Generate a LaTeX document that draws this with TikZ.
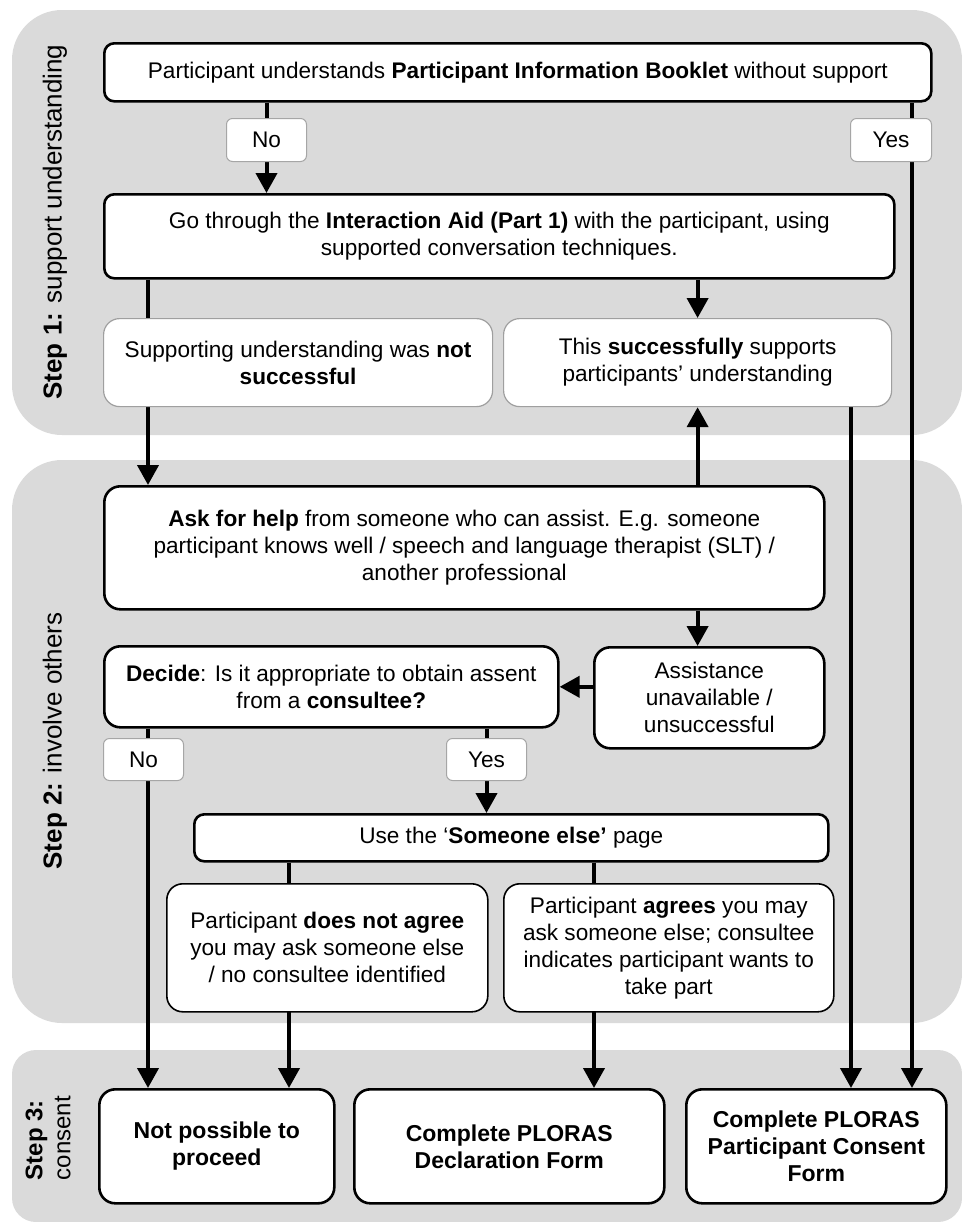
\documentclass[tikz,border=0pt]{standalone}
\usepackage{fontspec}
\setmainfont{Liberation Sans}
\usetikzlibrary{arrows.meta}

\pgfdeclarelayer{bands}
\pgfdeclarelayer{lines}
\pgfsetlayers{bands,lines,main}

\definecolor{bandgray}{RGB}{218,218,218}

\tikzset{
  box/.style={draw, line width=1.3pt, rounded corners=5pt, fill=white,
    align=center, inner sep=2pt, anchor=north west,
    font=\fontsize{11.3}{13.5}\selectfont},
  softbox/.style={box, draw=gray!75, line width=0.6pt, rounded corners=8pt},
  midbox/.style={box, line width=0.8pt, rounded corners=8pt},
  endbox/.style={box, rounded corners=8pt, font=\fontsize{11.5}{13.5}\selectfont\bfseries},
  answer/.style={box, draw=gray!70, line width=0.5pt, rounded corners=3pt},
  arr/.style={line width=2pt, -{Triangle[width=10.5pt,length=10pt]}},
  band/.style={fill=bandgray, draw=none},
  steplabel/.style={rotate=90, font=\fontsize{13}{15}\selectfont}
}

\begin{document}
\begin{tikzpicture}[x=0.5pt,y=-0.5pt]
\useasboundingbox (0,0) rectangle (962,1222);

% Bands
\begin{pgfonlayer}{bands}
  \fill[band, rounded corners=25pt] (12,10) rectangle (962,435);
  \fill[band, rounded corners=25pt] (12,460) rectangle (962,1023);
  \fill[band, rounded corners=12pt] (12,1050) rectangle (962,1222);
\end{pgfonlayer}

% Step labels
\node[steplabel] (s1) at (55,222) {\textbf{Step 1:} support understanding};
\node[steplabel] (s2) at (55,741) {\textbf{Step 2:} involve others};
\node[steplabel, align=left, font=\fontsize{12}{14}\selectfont] (s3) at (48,1138)
  {\textbf{Step 3:}\\consent};

% Step 1
\node[box, minimum width=413.5pt, minimum height=29pt] (top) at (103,42)
  {Participant understands \textbf{Participant Information Booklet} without support};
\node[answer, minimum width=40pt, minimum height=21.5pt] (no1) at (226,118) {No};
\node[answer, minimum width=40.5pt, minimum height=21.5pt] (yes1) at (850,118) {Yes};
\node[box, minimum width=395pt, minimum height=42pt] (aid) at (103,193)
  {Go through the \textbf{Interaction Aid (Part 1)} with the participant, using\\
   supported conversation techniques.};
\node[softbox, minimum width=194.5pt, minimum height=44pt] (fail) at (103,318)
  {Supporting understanding was \textbf{not}\\\textbf{successful}};
\node[softbox, minimum width=194pt, minimum height=44pt] (succ) at (503,318)
  {This \textbf{successfully} supports\\participants’ understanding};

% Step 2
\node[box, rounded corners=8pt, minimum width=360pt, minimum height=61.5pt] (ask) at (103,485)
  {\textbf{Ask for help} from someone who can assist. E.g. someone\\
   participant knows well / speech and language therapist (SLT) /\\
   another professional};
\node[box, rounded corners=8pt, minimum width=115pt, minimum height=50.5pt] (assist) at (593,646)
  {Assistance\\unavailable /\\unsuccessful};
\node[box, rounded corners=8pt, minimum width=227pt, minimum height=40.5pt] (decide) at (103,645)
  {\textbf{Decide}: Is it appropriate to obtain assent\\from a \textbf{consultee?}};
\node[answer, minimum width=40pt, minimum height=21pt] (no2) at (103,738) {No};
\node[answer, minimum width=40pt, minimum height=21pt] (yes2) at (446,738) {Yes};
\node[box, minimum width=317pt, minimum height=23.5pt] (else) at (193,813)
  {Use the ‘\textbf{Someone else’} page};
\node[midbox, minimum width=160.5pt, minimum height=64pt] (disagree) at (166,883)
  {Participant \textbf{does not agree}\\you may ask someone else\\/ no consultee identified};
\node[midbox, minimum width=165pt, minimum height=64pt] (agree) at (503,883)
  {Participant \textbf{agrees} you may\\ask someone else; consultee\\
   indicates participant wants to\\take part};

% Step 3
\node[endbox, minimum width=117.5pt, minimum height=57pt] (notposs) at (98,1088)
  {Not possible to\\proceed};
\node[endbox, minimum width=155pt, minimum height=57pt] (decl) at (353,1088)
  {Complete PLORAS\\Declaration Form};
\node[endbox, minimum width=130pt, minimum height=57pt] (consent) at (685,1088)
  {Complete PLORAS\\Participant Consent\\Form};

% Connectors
\coordinate (leftx) at (148,0);
\coordinate (yesx) at (912,0);
\coordinate (succx) at (851,0);
\coordinate (dx) at (289,0);
\coordinate (ax) at (594,0);
\begin{pgfonlayer}{lines}
  \draw[arr] (top.south -| no1) -- (aid.north -| no1);
  \draw[arr] (top.south -| yesx) -- (consent.north -| yesx);
  \draw[arr] (aid.south -| leftx) -- (ask.north -| leftx);
  \draw[arr] (aid.south -| succ) -- (succ.north);
  \draw[arr] (ask.north -| succ) -- (succ.south);
  \draw[arr] (succ.south -| succx) -- (consent.north -| succx);
  \draw[arr] (ask.south -| succ) -- (assist.north -| succ);
  \draw[arr] (assist.west |- decide) -- (decide.east);
  \draw[arr] (decide.south -| leftx) -- (notposs.north -| leftx);
  \draw[arr] (decide.south -| yes2) -- (else.north -| yes2);
  \draw[arr] (else.south -| dx) -- (notposs.north -| dx);
  \draw[arr] (else.south -| ax) -- (decl.north -| ax);
\end{pgfonlayer}

\end{tikzpicture}
\end{document}
